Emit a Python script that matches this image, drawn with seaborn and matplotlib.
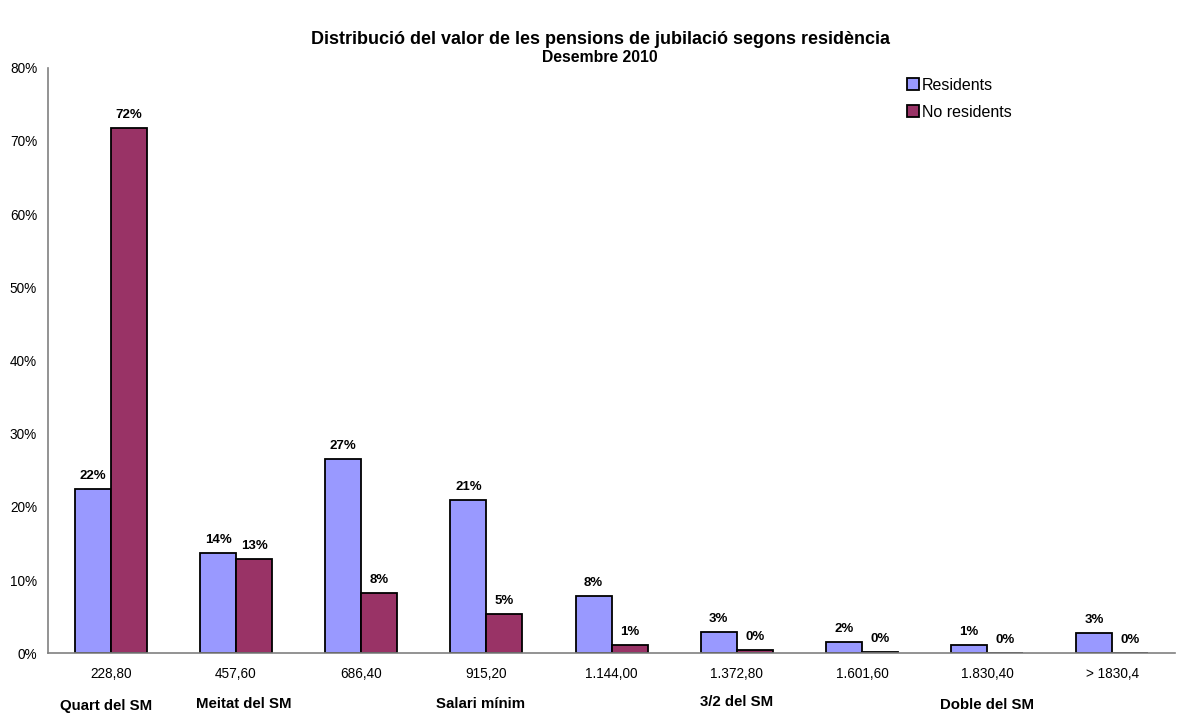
import matplotlib
matplotlib.use("Agg")
import matplotlib.pyplot as plt
from matplotlib.ticker import FuncFormatter, FixedLocator
from matplotlib.patches import Patch
import seaborn as sns
import pandas as pd

# Pension amount brackets (euros) and share of pensions in each bracket (%)
brackets = ["228,80", "457,60", "686,40", "915,20", "1.144,00",
            "1.372,80", "1.601,60", "1.830,40", "> 1830,4"]
residents = [22.4, 13.7, 26.6, 21.0, 7.8, 2.9, 1.6, 1.2, 2.8]
non_residents = [71.8, 12.9, 8.3, 5.4, 1.1, 0.4, 0.15, 0.1, 0.0]
series_names = ["Residents", "No residents"]

# Reference levels relative to the minimum wage (SM) shown under the axis
sm_labels = ["Quart del SM", "Meitat del SM", "Salari mínim", "3/2 del SM", "Doble del SM"]
sm_positions = [-0.04, 1.06, 2.95, 5.0, 7.0]
sm_heights = [-0.090, -0.0865, -0.0865, -0.083, -0.089]

colors = ["#9999FF", "#993366"]

df = pd.DataFrame({
    "bracket": brackets * 2,
    "serie": [series_names[0]] * len(brackets) + [series_names[1]] * len(brackets),
    "value": residents + non_residents,
})

sns.set_style("white")
plt.rcParams["font.family"] = ["Liberation Sans", "DejaVu Sans"]
plt.rcParams["text.color"] = "black"
plt.rcParams["xtick.color"] = "black"
plt.rcParams["ytick.color"] = "black"
plt.rcParams["axes.labelcolor"] = "black"

fig = plt.figure(figsize=(11.77, 7.13), dpi=100)
ax = fig.add_axes([0.041, 0.0837, 0.9573, 0.8213])

sns.barplot(data=df, x="bracket", y="value", hue="serie", order=brackets,
            hue_order=series_names, palette=colors, width=0.576, gap=0,
            edgecolor="black", linewidth=1.3, saturation=1, ax=ax, legend=False)

# Value labels above each bar
for container in ax.containers:
    for bar in container:
        h = bar.get_height()
        ax.annotate(f"{round(h):.0f}%", (bar.get_x() + bar.get_width() / 2, h),
                    xytext=(0, 5), textcoords="offset points",
                    ha="center", va="bottom", fontsize=9.5, fontweight="bold")

ax.set_xlim(-0.5, len(brackets) - 0.5)
ax.set_ylim(0, 80)
ax.set_yticks(range(0, 81, 10))
ax.yaxis.set_major_formatter(FuncFormatter(lambda v, _: f"{v:.0f}%"))
ax.set_xlabel("")
ax.set_ylabel("")

# Tick marks on the category boundaries, labels at the centres
ax.xaxis.set_minor_locator(FixedLocator([i - 0.5 for i in range(len(brackets) + 1)]))
ax.tick_params(axis="x", which="major", length=0, labelsize=9.8, pad=9.8)
ax.tick_params(axis="x", which="minor", length=5, width=1, color="#808080", direction="out")
ax.tick_params(axis="y", which="major", length=5, width=1, color="#808080",
               direction="out", labelsize=9.8, pad=3)

for side in ["top", "right"]:
    ax.spines[side].set_visible(False)
for side in ["left", "bottom"]:
    ax.spines[side].set_color("#808080")
    ax.spines[side].set_linewidth(1.2)

# Minimum-wage reference labels
for label, xpos, ypos in zip(sm_labels, sm_positions, sm_heights):
    ax.text(xpos, ypos, label, transform=ax.get_xaxis_transform(),
            ha="center", va="center", fontsize=10.8, fontweight="bold")

handles = [Patch(facecolor=c, edgecolor="black", linewidth=1.3) for c in colors]
ax.legend(handles, series_names, loc="upper left", bbox_to_anchor=(0.762, 0.983),
          frameon=False, fontsize=11.5, handlelength=0.75, handleheight=0.75,
          handletextpad=0.2, labelspacing=0.75, borderpad=0, borderaxespad=0)

fig.text(0.51, 0.944, "Distribució del valor de les pensions de jubilació segons residència",
         ha="center", va="center", fontsize=13, fontweight="bold")
fig.text(0.51, 0.919, "Desembre 2010", ha="center", va="center",
         fontsize=11.3, fontweight="bold")

fig.savefig("out.png", dpi=100, facecolor="white")
